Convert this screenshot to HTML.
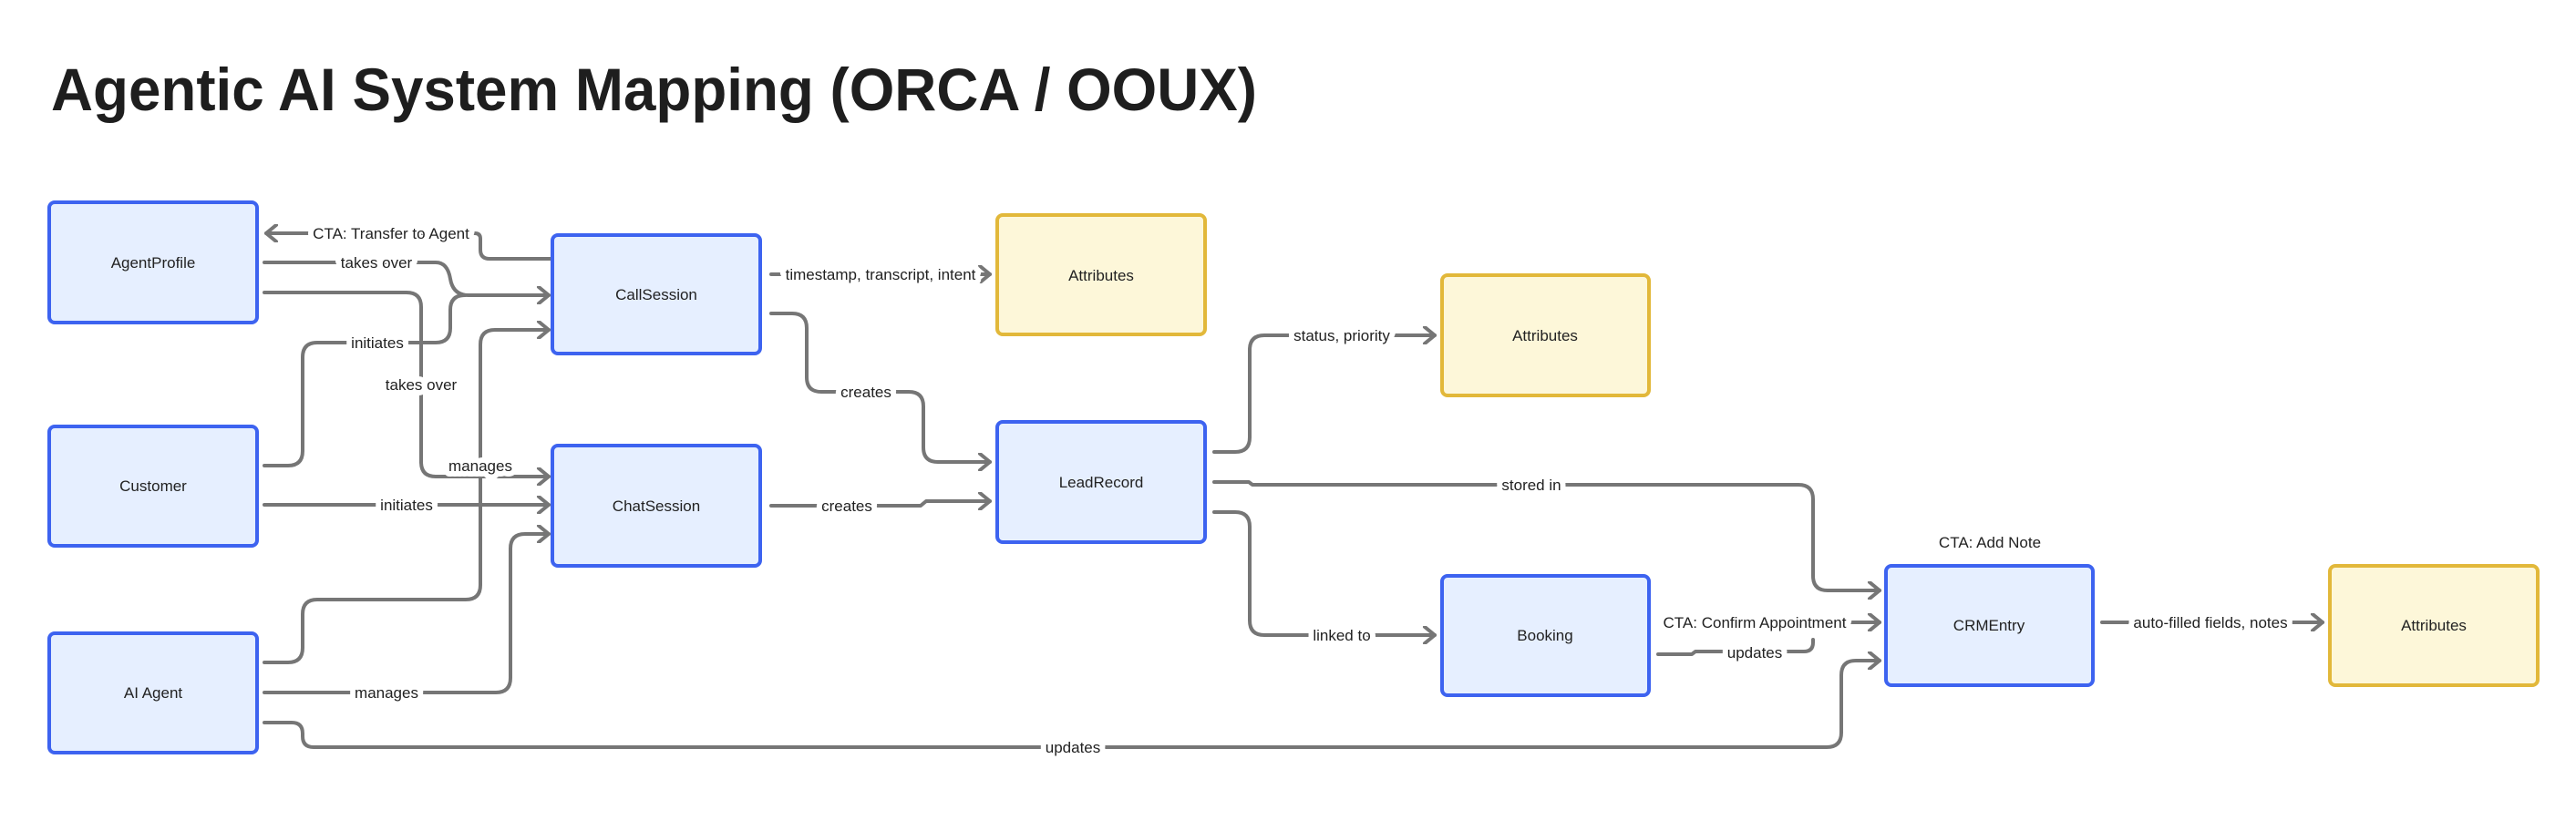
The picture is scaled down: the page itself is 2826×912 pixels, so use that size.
<!DOCTYPE html>
<html><head><meta charset="utf-8"><style>
html,body{margin:0;padding:0;background:#fff;}
svg{display:block;}
text{font-family:"Liberation Sans",sans-serif;}
.lbl{font-size:17px;fill:#222;stroke:#fff;stroke-width:12px;paint-order:stroke;stroke-linejoin:round;}
.nt{font-size:17px;fill:#222;}
.ln{fill:none;stroke:#767676;stroke-width:4;stroke-linejoin:round;stroke-linecap:round;}
.bb{fill:#e6efff;stroke:#3d63f0;stroke-width:4;}
.yb{fill:#fdf7d9;stroke:#e2b83a;stroke-width:4;}
</style></head><body>
<svg width="2826" height="912" viewBox="0 0 2826 912" xmlns="http://www.w3.org/2000/svg">
<defs>
<marker id="a" markerWidth="20" markerHeight="20" refX="14" refY="10" orient="auto" markerUnits="userSpaceOnUse">
<path d="M3,1 L14,10 L3,19" fill="none" stroke="#767676" stroke-width="4" stroke-linecap="round" stroke-linejoin="round"/>
</marker>
</defs>
<text x="56" y="121" font-size="66" font-weight="bold" fill="#1e1e1e" textLength="1323" lengthAdjust="spacingAndGlyphs">Agentic AI System Mapping (ORCA / OOUX)</text>

<!-- connectors -->
<path class="ln" marker-end="url(#a)" d="M606,284 H537 Q527,284 527,274 V262 Q527,256 521,256 H292"/>
<path class="ln" marker-end="url(#a)" d="M290,288 H478 Q491,288 494,306 Q497,324 514,324 H602"/>
<path class="ln" d="M290,511 H316 Q332,511 332,495 V392 Q332,376 348,376 H478 Q494,376 494,360 V340 Q494,324 510,324"/>
<path class="ln" marker-end="url(#a)" d="M290,321 H446 Q462,321 462,337 V507 Q462,523 478,523 H602"/>
<path class="ln" marker-end="url(#a)" d="M290,727 H316 Q332,727 332,711 V674 Q332,658 348,658 H511 Q527,658 527,642 V378 Q527,362 543,362 H602"/>
<path class="ln" marker-end="url(#a)" d="M290,554 H602"/>
<path class="ln" marker-end="url(#a)" d="M290,760 H544 Q560,760 560,744 V602 Q560,586 576,586 H602"/>
<path class="ln" marker-end="url(#a)" d="M290,793 H320 Q332,793 332,805 V808 Q332,820 344,820 H2004 Q2020,820 2020,804 V741 Q2020,725 2036,725 H2062"/>
<path class="ln" marker-end="url(#a)" d="M846,301 H1086"/>
<path class="ln" marker-end="url(#a)" d="M846,344 H869 Q885,344 885,360 V414 Q885,430 901,430 H997 Q1013,430 1013,446 V491 Q1013,507 1029,507 H1086"/>
<path class="ln" marker-end="url(#a)" d="M846,555 H1010 L1016,550 H1086"/>
<path class="ln" marker-end="url(#a)" d="M1332,496 H1355 Q1371,496 1371,480 V384 Q1371,368 1387,368 H1574"/>
<path class="ln" marker-end="url(#a)" d="M1332,529 H1370 L1374,532 H1973 Q1989,532 1989,548 V632 Q1989,648 2005,648 H2062"/>
<path class="ln" marker-end="url(#a)" d="M1332,562 H1355 Q1371,562 1371,578 V681 Q1371,697 1387,697 H1574"/>
<path class="ln" marker-end="url(#a)" d="M2020,683 H2062"/>
<path class="ln" d="M1819,718 H1856 L1860,715 H1979 Q1989,715 1989,705 V702"/>
<path class="ln" marker-end="url(#a)" d="M2306,683 H2548"/>

<!-- labels -->
<text class="lbl" x="429" y="262" text-anchor="middle">CTA: Transfer to Agent</text>
<text class="lbl" x="413" y="294" text-anchor="middle">takes over</text>
<text class="lbl" x="414" y="382" text-anchor="middle">initiates</text>
<text class="lbl" x="462" y="428" text-anchor="middle">takes over</text>
<text class="lbl" x="527" y="517" text-anchor="middle">manages</text>
<text class="lbl" x="446" y="560" text-anchor="middle">initiates</text>
<text class="lbl" x="424" y="766" text-anchor="middle">manages</text>
<text class="lbl" x="1177" y="826" text-anchor="middle">updates</text>
<text class="lbl" x="966" y="307" text-anchor="middle">timestamp, transcript, intent</text>
<text class="lbl" x="950" y="436" text-anchor="middle">creates</text>
<text class="lbl" x="929" y="561" text-anchor="middle">creates</text>
<text class="lbl" x="1472" y="374" text-anchor="middle">status, priority</text>
<text class="lbl" x="1680" y="538" text-anchor="middle">stored in</text>
<text class="lbl" x="1472" y="703" text-anchor="middle">linked to</text>
<text class="lbl" x="1925" y="689" text-anchor="middle">CTA: Confirm Appointment</text>
<text class="lbl" x="1925" y="722" text-anchor="middle">updates</text>
<text class="lbl" x="2425" y="689" text-anchor="middle">auto-filled fields, notes</text>
<text class="nt" x="2183" y="601" text-anchor="middle">CTA: Add Note</text>

<!-- nodes -->
<rect class="bb" x="54" y="222" width="228" height="132" rx="6"/>
<text class="nt" x="168" y="294" text-anchor="middle">AgentProfile</text>
<rect class="bb" x="54" y="468" width="228" height="131" rx="6"/>
<text class="nt" x="168" y="539" text-anchor="middle">Customer</text>
<rect class="bb" x="54" y="695" width="228" height="131" rx="6"/>
<text class="nt" x="168" y="766" text-anchor="middle">AI Agent</text>
<rect class="bb" x="606" y="258" width="228" height="130" rx="6"/>
<text class="nt" x="720" y="329" text-anchor="middle">CallSession</text>
<rect class="bb" x="606" y="489" width="228" height="132" rx="6"/>
<text class="nt" x="720" y="561" text-anchor="middle">ChatSession</text>
<rect class="yb" x="1094" y="236" width="228" height="131" rx="6"/>
<text class="nt" x="1208" y="308" text-anchor="middle">Attributes</text>
<rect class="bb" x="1094" y="463" width="228" height="132" rx="6"/>
<text class="nt" x="1208" y="535" text-anchor="middle">LeadRecord</text>
<rect class="yb" x="1582" y="302" width="227" height="132" rx="6"/>
<text class="nt" x="1695" y="374" text-anchor="middle">Attributes</text>
<rect class="bb" x="1582" y="632" width="227" height="131" rx="6"/>
<text class="nt" x="1695" y="703" text-anchor="middle">Booking</text>
<rect class="bb" x="2069" y="621" width="227" height="131" rx="6"/>
<text class="nt" x="2182" y="692" text-anchor="middle">CRMEntry</text>
<rect class="yb" x="2556" y="621" width="228" height="131" rx="6"/>
<text class="nt" x="2670" y="692" text-anchor="middle">Attributes</text>
</svg>
</body></html>
